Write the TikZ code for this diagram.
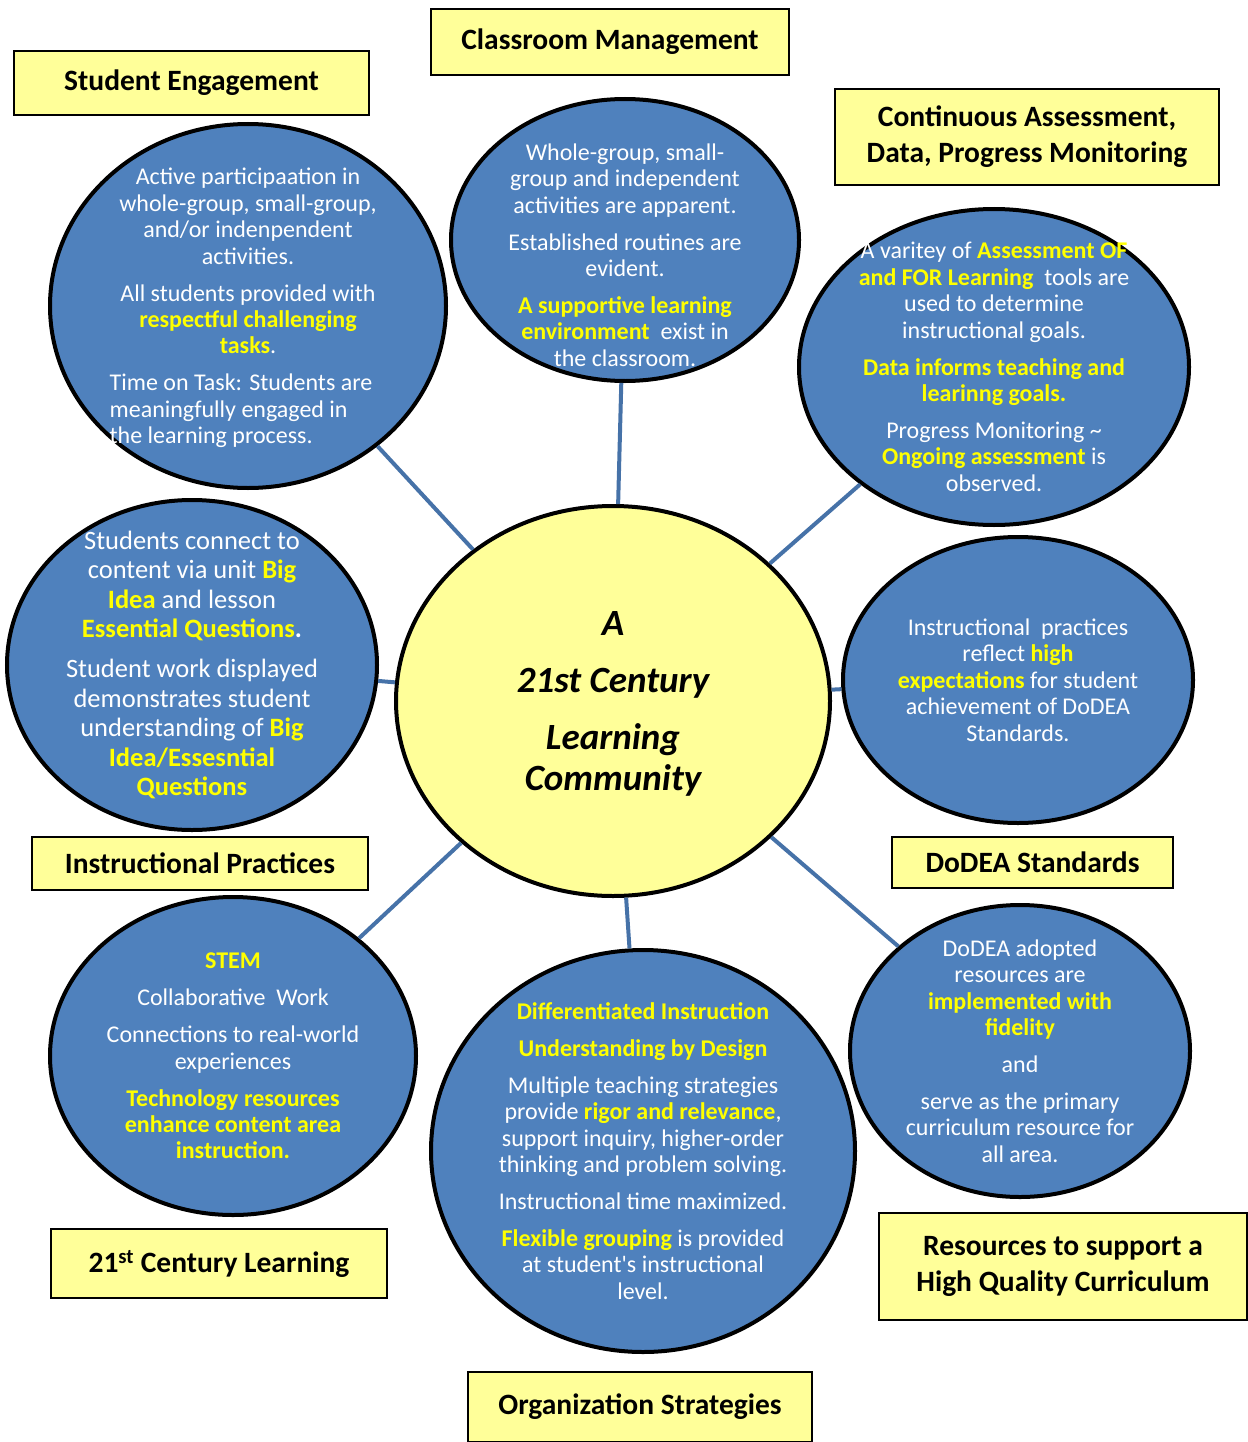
\documentclass[tikz,border=0pt]{standalone}
\usepackage{fontspec}
\setmainfont{Carlito}
\usetikzlibrary{shapes.geometric}
\definecolor{boxyellow}{HTML}{FFFF99}
\definecolor{hlyellow}{HTML}{FFFF00}
\definecolor{bubbleblue}{HTML}{4F81BD}
\definecolor{linkblue}{HTML}{4672A8}
\newcommand{\hl}[1]{\textbf{\color{hlyellow}#1}}

\begin{document}
\begin{tikzpicture}[x=1pt, y=-1pt,
                    blue_node/.style={ellipse, draw=black, line width=4pt, fill=bubbleblue, inner sep=0pt},
                    centre_node/.style={ellipse, draw=black, line width=4pt, fill=boxyellow, inner sep=0pt},
                    blue_text/.style={align=center, text=white, inner sep=0pt, font=\fontsize{24}{26.4}\selectfont},
                    title_box/.style={rectangle, draw=black, line width=2pt, fill=boxyellow, inner sep=0pt, align=center, font=\fontsize{29.5}{36}\selectfont\bfseries},
                    link/.style={draw=linkblue, line width=4pt}
                ]
                    \useasboundingbox (0,0) rectangle (1247,1442);

                    % title boxes
                    \node[title_box, minimum width=355pt, minimum height=64pt] (se_lab) at (191.5,83) {Student Engagement};
                    \node[title_box, minimum width=358pt, minimum height=66pt] (cm_lab) at (610,42) {Classroom Management};
                    \node[title_box, minimum width=384pt, minimum height=96pt] (ca_lab) at (1027,137) {Continuous Assessment,\\Data, Progress Monitoring};
                    \node[title_box, minimum width=336pt, minimum height=53pt] (ip_lab) at (200,863.5) {Instructional Practices};
                    \node[title_box, minimum width=281pt, minimum height=51pt] (ds_lab) at (1032.5,862.5) {DoDEA Standards};
                    \node[title_box, minimum width=336pt, minimum height=69pt] (cl_lab) at (219,1263.5) {21\textsuperscript{st} Century Learning};
                    \node[title_box, minimum width=368pt, minimum height=107pt] (rs_lab) at (1063,1266.5) {Resources to support a\\High Quality Curriculum};
                    \node[title_box, minimum width=344pt, minimum height=70pt] (os_lab) at (640,1407) {Organization Strategies};

                    % bubbles
                    \node[centre_node, minimum width=434pt, minimum height=390pt] (centre) at (613,701) {};
                    \node[blue_node, minimum width=396pt, minimum height=364pt] (se) at (248,306) {};
                    \node[blue_node, minimum width=348pt, minimum height=282pt] (cm) at (625,240) {};
                    \node[blue_node, minimum width=390pt, minimum height=316pt] (ca) at (994,367) {};
                    \node[blue_node, minimum width=370pt, minimum height=330pt] (ip) at (192,665) {};
                    \node[blue_node, minimum width=350pt, minimum height=286pt] (ds) at (1018,680) {};
                    \node[blue_node, minimum width=366pt, minimum height=318pt] (cl) at (233,1056) {};
                    \node[blue_node, minimum width=424pt, minimum height=402pt] (os) at (643,1151) {};
                    \node[blue_node, minimum width=340pt, minimum height=292pt] (rs) at (1020,1051) {};

                    % spokes
                    \foreach \b in {se, cm, ca, ip, ds, cl, os, rs}
                        \draw[link] (centre) -- (\b);

                    % texts
                    \node[inner sep=0pt, align=center, font=\fontsize{37}{41}\selectfont\bfseries\itshape] (centre_txt) at (613,704) {A\\[16pt]21st Century\\[16pt]Learning\\Community};

                    \node[blue_text] (se_txt) at (248,310) {Active participaation in\\
                        whole-group, small-group,\\
                        and/or indenpendent\\
                        activities.\\[10.6pt]
                        All students provided with\\
                        \hl{respectful challenging}\\
                        \hl{tasks}.\\[10.6pt]
                        \hspace*{-14pt}\begin{tabular}[t]{@{}l@{}}Time on Task: Students are\\meaningfully engaged in\\the learning process.\end{tabular}};

                    \node[blue_text] (cm_txt) at (625,255) {Whole-group, small-\\
                        group and independent\\
                        activities are apparent.\\[10.6pt]
                        Established routines are\\
                        evident.\\[10.6pt]
                        \hl{A supportive learning}\\
                        \hl{environment}~ exist in\\
                        the classroom.};

                    \node[blue_text] (ca_txt) at (ca) {A varitey of \hl{Assessment OF}\\
                        \hl{and FOR Learning}~ tools are\\
                        used to determine\\
                        instructional goals.\\[10.6pt]
                        \hl{Data informs teaching and}\\
                        \hl{learinng goals.}\\[10.6pt]
                        Progress Monitoring \textasciitilde\\
                        \hl{Ongoing assessment} is\\
                        observed.};

                    \node[blue_text, font=\fontsize{26.5}{29.5}\selectfont] (ip_txt) at (ip) {Students connect to\\
                        content via unit \hl{Big}\\
                        \hl{Idea} and lesson\\
                        \hl{Essential Questions}\textbf{.}\\[10.5pt]
                        Student work displayed\\
                        demonstrates student\\
                        understanding of \hl{Big}\\
                        \hl{Idea/Essesntial}\\
                        \hl{Questions}};

                    \node[blue_text] (ds_txt) at (ds) {Instructional~ practices\\
                        reflect \hl{high}\\
                        \hl{expectations} for student\\
                        achievement of DoDEA\\
                        Standards.};

                    \node[blue_text] (cl_txt) at (cl) {\hl{STEM}\\[10.6pt]
                        Collaborative~ Work\\[10.6pt]
                        Connections to real-world\\
                        experiences\\[10.6pt]
                        \hl{Technology resources}\\
                        \hl{enhance content area}\\
                        \hl{instruction.}};

                    \node[blue_text] (os_txt) at (os) {\hl{Differentiated Instruction}\\[10.6pt]
                        \hl{Understanding by Design}\\[10.6pt]
                        Multiple teaching strategies\\
                        provide \hl{rigor and relevance},\\
                        support inquiry, higher-order\\
                        thinking and problem solving.\\[10.6pt]
                        Instructional time maximized.\\[10.6pt]
                        \hl{Flexible grouping} is provided\\
                        at student\textquotesingle s instructional\\
                        level.};

                    \node[blue_text] (rs_txt) at (rs) {DoDEA adopted\\
                        resources are\\
                        \hl{implemented with}\\
                        \hl{fidelity}\\[10.6pt]
                        and\\[10.6pt]
                        serve as the primary\\
                        curriculum resource for\\
                        all area.};
                \end{tikzpicture}
\end{document}
